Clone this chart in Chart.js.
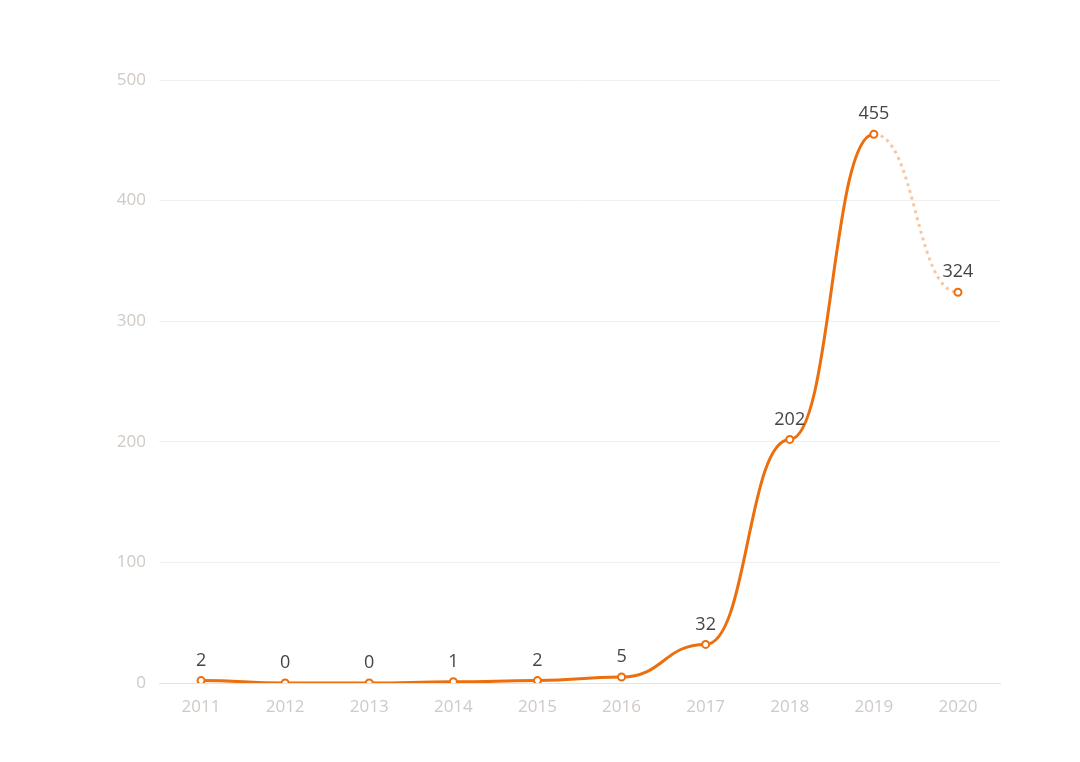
<!DOCTYPE html>
<html>
<head>
<meta charset="utf-8">
<script src="https://cdn.jsdelivr.net/npm/chart.js@4/dist/chart.umd.min.js"></script>
<style>
  html, body { margin: 0; padding: 0; background: #fff; }
  #wrap { width: 1080px; height: 762px; }
</style>
</head>
<body>
<div id="wrap"><canvas id="trendChart"></canvas></div>
<script>
const years = ['2011', '2012', '2013', '2014', '2015', '2016', '2017', '2018', '2019', '2020'];
const counts = [2, 0, 0, 1, 2, 5, 32, 202, 455, 324];
const yTicks = [0, 100, 200, 300, 400, 500];

const lineColor = '#ec6e0c';
const tickColor = '#d0c9c4';
const fontFamily = '"Open Sans", "Noto Sans", sans-serif';
const smooth = 0.5;

// flat tangents at every point (x-monotone smoothing)
const flatCurve = {
  id: 'flatCurve',
  beforeDatasetsDraw(chart) {
    const meta = chart.getDatasetMeta(0);
    meta.dataset.updateControlPoints(chart.chartArea, 'x');
    const pts = meta.data;
    pts.forEach((p, i) => {
      const prev = pts[i - 1], next = pts[i + 1];
      p.cp1x = prev ? p.x - (p.x - prev.x) * smooth : p.x;
      p.cp1y = p.y;
      p.cp2x = next ? p.x + (next.x - p.x) * smooth : p.x;
      p.cp2y = p.y;
    });
  }
};

// value labels above each point
const valueLabels = {
  id: 'valueLabels',
  afterDatasetsDraw(chart) {
    const ctx = chart.ctx;
    const meta = chart.getDatasetMeta(0);
    ctx.save();
    ctx.font = '18px ' + fontFamily;
    ctx.fillStyle = '#454545';
    ctx.textAlign = 'center';
    ctx.textBaseline = 'bottom';
    meta.data.forEach((pt, i) => {
      ctx.fillText(counts[i], pt.x, pt.y - 11);
    });
    ctx.restore();
  }
};

new Chart(document.getElementById('trendChart'), {
  type: 'line',
  data: {
    labels: years,
    datasets: [{
      data: counts,
      borderColor: lineColor,
      borderWidth: 3,
      tension: 0.4,
      pointRadius: 3.5,
      pointBorderWidth: 2,
      pointBackgroundColor: '#fff',
      pointBorderColor: lineColor,
      segment: {
        borderColor: c => c.p1DataIndex === 9 ? 'rgba(246, 180, 130, 0.75)' : undefined,
        borderDash: c => c.p1DataIndex === 9 ? [3, 4] : undefined
      }
    }]
  },
  options: {
    responsive: true,
    maintainAspectRatio: false,
    animation: false,
    layout: { padding: { top: 80, right: 80, left: 99, bottom: 0 } },
    plugins: {
      legend: { display: false },
      tooltip: { enabled: false }
    },
    scales: {
      x: {
        offset: true,
        grid: { display: false },
        border: { color: '#e2e2e2' },
        ticks: {
          color: tickColor,
          padding: 6,
          font: { size: 17, family: fontFamily }
        },
        afterFit: s => { s.height = 79; }
      },
      y: {
        min: 0,
        max: 500,
        afterBuildTicks: s => { s.ticks = yTicks.map(v => ({ value: v })); },
        grid: { color: '#f0f0f0', drawTicks: false },
        border: { display: false },
        ticks: {
          color: tickColor,
          padding: 13,
          font: { size: 17, family: fontFamily }
        },
        afterFit: s => { s.width = 60; }
      }
    }
  },
  plugins: [flatCurve, valueLabels]
});
</script>
</body>
</html>
